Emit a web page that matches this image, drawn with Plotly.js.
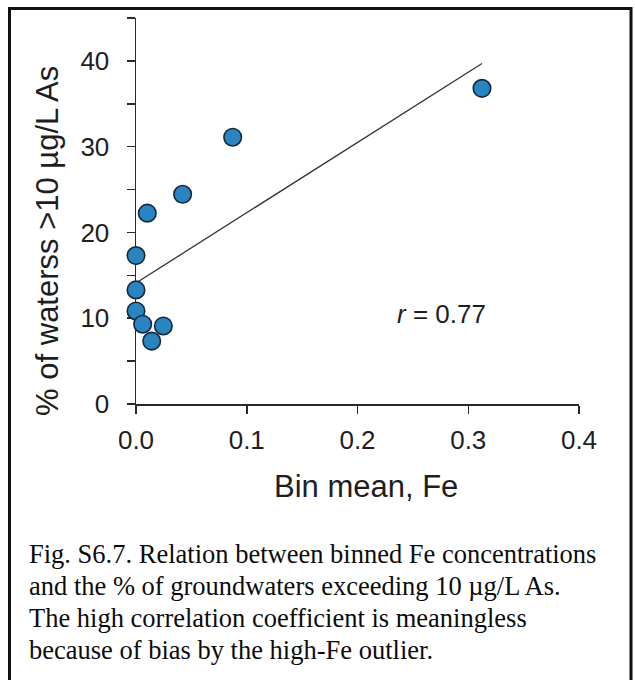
<!DOCTYPE html>
<html>
<head>
<meta charset="utf-8">
<script src="https://cdn.plot.ly/plotly-3.0.1.min.js"></script>
<style>
  html, body { margin: 0; padding: 0; background: #ffffff; }
  #chart { width: 635px; height: 680px; }
</style>
</head>
<body>
<div id="chart"></div>
<script>
// Bin means of Fe and the share of groundwaters above 10 µg/L As in each bin
const binMeanFe = [0.3124, 0.0873, 0.0421, 0.0102, 0.0, 0.0, 0.0, 0.0060, 0.0142, 0.0247];
const pctOver10 = [36.8, 31.1, 24.45, 22.25, 17.3, 13.3, 10.85, 9.3, 7.33, 9.1];

const xTickVals = [0, 0.1, 0.2, 0.3, 0.4];
const xTickText = ['0.0', '0.1', '0.2', '0.3', '0.4'];
const yTickVals = [0, 10, 20, 30, 40];
const yTickText = ['0', '10', '20', '30', '40'];
const yMinorVals = [5, 15, 25, 35, 45];

const xTitle = 'Bin mean, Fe';
const yTitle = '% of waterss >10 µg/L As';
const rLabel = '<i>r</i> = 0.77';
const captionLines = [
  'Fig. S6.7. Relation between binned Fe concentrations',
  'and the % of groundwaters exceeding 10 µg/L As.',
  'The high correlation coefficient is meaningless',
  'because of bias by the high-Fe outlier.'
];

// Ordinary least-squares trend line over the data's x span
function linearFit(xs, ys) {
  const n = xs.length;
  const mx = xs.reduce((a, b) => a + b, 0) / n;
  const my = ys.reduce((a, b) => a + b, 0) / n;
  let sxy = 0, sxx = 0;
  for (let i = 0; i < n; i++) {
    sxy += (xs[i] - mx) * (ys[i] - my);
    sxx += (xs[i] - mx) * (xs[i] - mx);
  }
  const slope = sxy / sxx;
  return { slope: slope, intercept: my - slope * mx };
}
const fit = linearFit(binMeanFe, pctOver10);
const fitX = [Math.min(...binMeanFe), Math.max(...binMeanFe)];
const fitY = fitX.map(x => fit.intercept + fit.slope * x);

// Page geometry (pixels) and helpers to place items in paper coordinates
const W = 635, H = 680;
const M = { l: 136, r: 56, t: 18, b: 276 };
const plotW = W - M.l - M.r, plotH = H - M.t - M.b;
const px = x => (x - M.l) / plotW;
const py = y => (H - M.b - y) / plotH;

const sans = 'Liberation Sans, Arial, sans-serif';
const serif = 'Liberation Serif, Times New Roman, serif';
const ink = '#1e1e1e';
const axisInk = '#2a2a2a';

const traces = [
  {
    type: 'scatter', mode: 'lines',
    x: fitX, y: fitY,
    line: { color: '#333333', width: 1.3 },
    hoverinfo: 'skip'
  },
  {
    type: 'scatter', mode: 'markers',
    x: binMeanFe, y: pctOver10,
    cliponaxis: false,
    marker: {
      size: 17.5, color: '#2b84c2',
      line: { color: '#14283c', width: 1.6 }
    }
  }
];

const annotations = [
  {
    text: rLabel, xref: 'paper', yref: 'paper',
    x: px(441), y: py(313.7), xanchor: 'center', yanchor: 'middle',
    showarrow: false, font: { family: sans, size: 26, color: ink }
  },
  {
    text: xTitle, xref: 'paper', yref: 'paper',
    x: px(366), y: py(486), xanchor: 'center', yanchor: 'middle',
    showarrow: false, font: { family: sans, size: 31, color: ink }
  },
  {
    text: yTitle, xref: 'paper', yref: 'paper', textangle: -90,
    x: px(47.6), y: py(241.3), xanchor: 'center', yanchor: 'middle',
    showarrow: false, font: { family: sans, size: 31, color: ink }
  }
];
const captionCenters = [554, 586, 618, 649.5];
captionLines.forEach((line, i) => {
  annotations.push({
    text: line, xref: 'paper', yref: 'paper',
    x: px(27), y: py(captionCenters[i]), xanchor: 'left', yanchor: 'middle',
    showarrow: false, font: { family: serif, size: 26.5, color: '#0c0c0c' }
  });
});

const layout = {
  width: W, height: H,
  margin: { l: M.l, r: M.r, t: M.t, b: M.b, pad: 0 },
  paper_bgcolor: '#ffffff', plot_bgcolor: '#ffffff',
  showlegend: false,
  xaxis: {
    range: [0, 0.4], tickmode: 'array', tickvals: xTickVals, ticktext: xTickText,
    ticks: 'outside', ticklen: 8, tickwidth: 1.5, tickcolor: axisInk,
    showline: true, linecolor: axisInk, linewidth: 1.5,
    showgrid: false, zeroline: false, layer: 'below traces',
    tickfont: { family: sans, size: 26, color: ink },
    ticklabelstandoff: 4,
    fixedrange: true
  },
  yaxis: {
    range: [0, 45], tickmode: 'array', tickvals: yTickVals, ticktext: yTickText,
    ticks: 'outside', ticklen: 8, tickwidth: 1.5, tickcolor: axisInk,
    minor: { tickmode: 'array', tickvals: yMinorVals, ticks: 'outside', ticklen: 8, tickwidth: 1.5, tickcolor: axisInk },
    showline: true, linecolor: axisInk, linewidth: 1.5,
    showgrid: false, zeroline: false, layer: 'below traces',
    tickfont: { family: sans, size: 26, color: ink },
    ticklabelstandoff: 12,
    fixedrange: true
  },
  annotations: annotations,
  shapes: [
    {
      type: 'rect', xref: 'paper', yref: 'paper',
      x0: px(9.5), x1: px(631), y0: py(700), y1: py(8.5),
      line: { color: '#111111', width: 3 }, fillcolor: 'rgba(0,0,0,0)'
    }
  ]
};

Plotly.newPlot('chart', traces, layout, { displayModeBar: false, staticPlot: true });
</script>
</body>
</html>
